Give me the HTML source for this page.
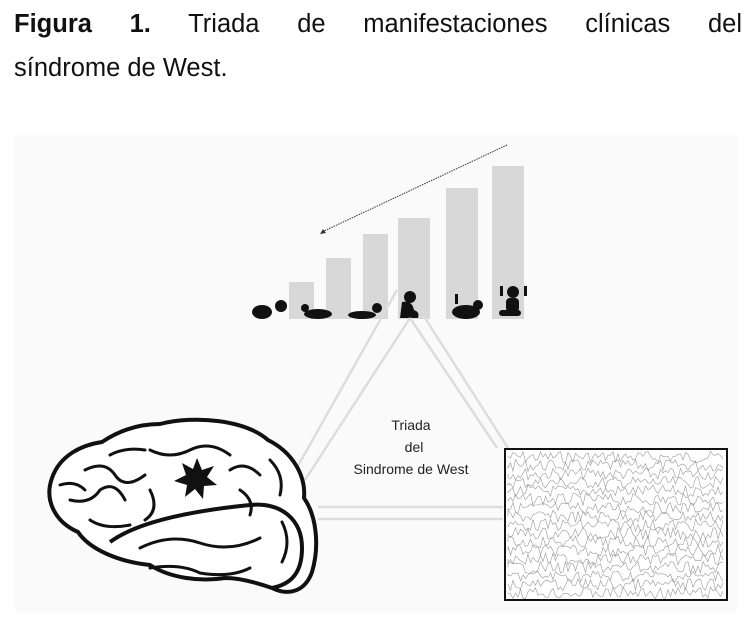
<!DOCTYPE html>
<html><head><meta charset="utf-8"><style>
body{margin:0;width:752px;height:635px;background:#fff;overflow:hidden;position:relative;font-family:"Liberation Sans",Arial,sans-serif}
.t{position:absolute;left:14px;width:728px;font-size:25.5px;line-height:44px;top:2px;text-align:justify;text-align-last:justify;color:#111}
.t2{position:absolute;left:14px;top:46px;font-size:25.5px;line-height:44px;color:#111}
svg{position:absolute;left:0;top:0}
</style></head><body>
<div class="t"><b>Figura 1.</b> Triada de manifestaciones clínicas del</div>
<div class="t2">síndrome de West.</div>
<svg width="752" height="635" id="s">
<rect x="15" y="135" width="722" height="478" fill="#fafafa"/>
<g fill="#d8d8d8">
<rect x="289" y="282" width="25" height="37"/><rect x="326" y="258" width="25" height="61"/>
<rect x="363" y="234" width="25" height="85"/><rect x="398" y="218" width="32" height="101"/>
<rect x="446" y="188" width="32" height="131"/><rect x="492" y="166" width="32" height="153"/>
</g>
<line x1="507" y1="145" x2="322" y2="232" stroke="#333" stroke-width="1" stroke-dasharray="1.5 1"/>
<path d="M320 234 l6 -1 l-3 -4z" fill="#333"/>
<g fill="#111">
<ellipse cx="262" cy="312" rx="10" ry="7"/><circle cx="281" cy="306" r="6"/>
<ellipse cx="318" cy="314" rx="14" ry="5"/><circle cx="305" cy="308" r="4"/>
<ellipse cx="362" cy="315" rx="14" ry="4"/><circle cx="377" cy="308" r="5"/>
<circle cx="410" cy="297" r="6"/><path d="M402 302 q10 -2 12 8 q6 2 4 8 h-18z"/>
<ellipse cx="466" cy="312" rx="14" ry="7"/><circle cx="478" cy="305" r="5"/><rect x="455" y="294" width="3" height="10"/>
<circle cx="513" cy="292" r="6"/><rect x="506" y="298" width="13" height="14" rx="4"/><rect x="499" y="310" width="22" height="6" rx="3"/><rect x="500" y="286" width="3" height="10"/><rect x="524" y="286" width="3" height="10"/>
</g>
<g stroke="#ddd" stroke-width="2.5" fill="none">
<line x1="397" y1="290" x2="290" y2="480"/><line x1="410" y1="318" x2="305" y2="480"/>
<line x1="410" y1="318" x2="497" y2="448"/><line x1="425" y1="318" x2="508" y2="448"/>
<line x1="318" y1="507" x2="503" y2="507"/><line x1="318" y1="519" x2="503" y2="519"/>
</g>
<g font-size="14" fill="#222" text-anchor="middle" font-family="Liberation Sans, sans-serif">
<text x="411" y="430">Triada</text><text x="414" y="452">del</text><text x="411" y="474">Sindrome de West</text>
</g>
<rect x="505" y="449" width="222" height="151" fill="#fff" stroke="#111" stroke-width="2"/>
<g id="eeg" stroke="#999" stroke-width="0.6" fill="none"></g>
<g stroke="#111" stroke-width="4" fill="#fff" stroke-linejoin="round">
<path d="M160 424 C195 415 245 420 268 440 C292 452 306 475 304 498 C316 515 320 545 312 572 C305 592 288 596 272 588 C255 582 240 578 225 578 C200 582 170 578 150 565 C120 562 90 550 78 532 C55 522 44 500 52 478 C60 455 82 445 102 442 C120 430 140 424 160 424Z"/>
<path d="M110 542 C140 520 200 510 250 505 C282 502 302 520 302 548 C302 572 292 584 272 588" fill="none"/>
</g>
<g stroke="#111" stroke-width="3" fill="none" stroke-linecap="round">
<path d="M85 470 q20 -10 30 5 q10 15 30 0"/><path d="M70 500 q20 5 30 -10 q15 -10 25 10"/>
<path d="M150 450 q20 10 40 0 q20 -10 40 5"/><path d="M230 470 q15 -10 30 5"/>
<path d="M150 490 q10 20 -5 30"/><path d="M240 490 q15 10 10 25"/><path d="M270 460 q15 15 10 35"/>
<path d="M140 548 q30 -15 60 -5 q30 10 60 -5"/><path d="M150 568 q30 -5 50 5 q30 5 50 -5"/>
<path d="M90 520 q15 10 40 5"/><path d="M282 522 q10 20 0 40"/>
<path d="M110 455 q15 -8 35 -5"/><path d="M60 485 q15 -5 25 5"/>
</g>
<polygon points="197,458 202,470 214,466 207,477 217,485 204,486 203,499 195,489 185,497 187,485 174,481 186,475 182,463 193,469" fill="#111"/>
</svg>
<script>
var g=document.getElementById('eeg'),s='';var seed=7;function r(){seed=(seed*9301+49297)%233280;return seed/233280;}
for(var i=0;i<17;i++){var y0=457+i*8.5,d='M508 '+y0;for(var x=508;x<=724;x+=2.5){d+=' L'+x+' '+(y0+(r()-0.5)*12).toFixed(1);}s+='<path d="'+d+'"/>';}
g.innerHTML=s;
</script>
</body></html>
